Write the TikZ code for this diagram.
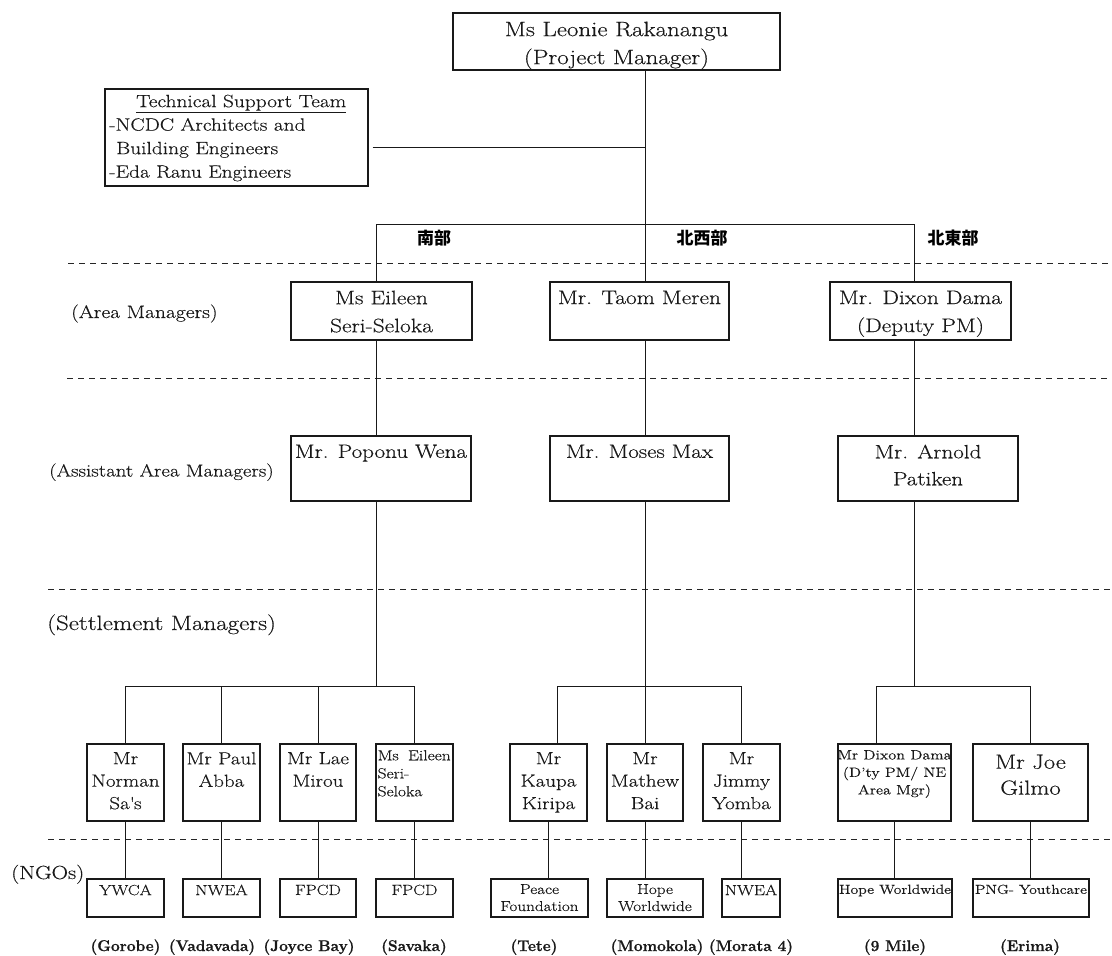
\documentclass[tikz,border=0pt]{standalone}
\usepackage{fontspec}
\setmainfont{Latin Modern Roman}[FakeStretch=1.2, FakeBold=0.35]
\newfontfamily\lmplain{Latin Modern Roman}[BoldFeatures={FakeBold=1}]
\newfontfamily\cjk{Noto Sans CJK JP}
\newcommand\myfs[2]{\fontsize{#1}{#2}\selectfont}
\begin{document}
\begin{tikzpicture}[x=1pt,y=-1pt,
  bx/.style={draw=black!90, line width=1.1pt, inner sep=0pt},
  ln/.style={line width=1pt, draw=black!90},
  dl/.style={line width=1pt, draw=black!85, dash pattern=on 6pt off 5pt},
  tx/.style={inner sep=0pt, anchor=north, align=center, text=black!90},
  side/.style={inner sep=0pt, anchor=base west, text=black!90},
  lab/.style={inner sep=0pt, anchor=base, text=black!90, font=\lmplain\bfseries\myfs{15.5}{16}},
  cjkl/.style={inner sep=0pt, text=black, font=\cjk\bfseries\myfs{17}{17}}]
\useasboundingbox (0,0) rectangle (1112,956);

% dashed separators
\draw[dl] (68,263) -- (1112,263);
\draw[dl] (67,378) -- (1112,378);
\draw[dl] (48,589) -- (1112,589);
\draw[dl] (48,839) -- (1112,839);

% helper coordinates
\coordinate (xs) at (376,0);
\coordinate (xw) at (645,0);
\coordinate (xe) at (914.5,0);
\coordinate (bar) at (0,224);
\coordinate (bbar) at (0,686);
\coordinate (tj) at (645,147);
\coordinate (k5) at (557,0);
\coordinate (k8) at (876,0);

% boxes
\node[bx, minimum width=327pt, minimum height=57pt] (pm) at (616.5,41.5) {};
\node[bx, minimum width=263pt, minimum height=97pt] (tech) at (236.5,137.5) {};

\node[bx, minimum width=181pt, minimum height=58pt] (a1) at (381.5,311) {};
\node[bx, minimum width=179pt, minimum height=58pt] (a2) at (639.5,311) {};
\node[bx, minimum width=181pt, minimum height=58pt] (a3) at (920.5,311) {};

\node[bx, minimum width=180pt, minimum height=65pt] (s1) at (381,468.5) {};
\node[bx, minimum width=179pt, minimum height=65pt] (s2) at (639.5,468.5) {};
\node[bx, minimum width=180pt, minimum height=65pt] (s3) at (928,468.5) {};

\node[bx, minimum width=77pt, minimum height=77pt] (b1) at (125.5,782.5) {};
\node[bx, minimum width=77pt, minimum height=77pt] (b2) at (221.5,782.5) {};
\node[bx, minimum width=76pt, minimum height=77pt] (b3) at (318,782.5) {};
\node[bx, minimum width=77pt, minimum height=77pt] (b4) at (414.5,782.5) {};
\node[bx, minimum width=77pt, minimum height=77pt] (b5) at (548.5,782.5) {};
\node[bx, minimum width=76pt, minimum height=77pt] (b6) at (645,782.5) {};
\node[bx, minimum width=77pt, minimum height=77pt] (b7) at (741.5,782.5) {};
\node[bx, minimum width=113pt, minimum height=77pt] (b8) at (894.5,782.5) {};
\node[bx, minimum width=115pt, minimum height=77pt] (b9) at (1030.5,782.5) {};

\node[bx, minimum width=77pt, minimum height=38pt] (n1) at (125.5,898) {};
\node[bx, minimum width=77pt, minimum height=38pt] (n2) at (221.5,898) {};
\node[bx, minimum width=76pt, minimum height=38pt] (n3) at (318,898) {};
\node[bx, minimum width=77pt, minimum height=38pt] (n4) at (414.5,898) {};
\node[bx, minimum width=97pt, minimum height=38pt] (n5) at (539.5,898) {};
\node[bx, minimum width=96pt, minimum height=38pt] (n6) at (655,898) {};
\node[bx, minimum width=58pt, minimum height=38pt] (n7) at (751,898) {};
\node[bx, minimum width=114pt, minimum height=38pt] (n8) at (895,898) {};
\node[bx, minimum width=116pt, minimum height=38pt] (n9) at (1031,898) {};

% connectors
\draw[ln] (pm.south -| xw) -- (a2.north -| xw);
\draw[ln, shorten <=4pt] (tech.east |- tj) -- (tj);
\draw[ln] (a1.north -| xs) -- (xs |- bar) -- (xe |- bar) -- (a3.north -| xe);
\draw[ln] (a1.south -| xs) -- (s1.north -| xs);
\draw[ln] (a2.south -| xw) -- (s2.north -| xw);
\draw[ln] (a3.south -| xe) -- (s3.north -| xe);
\draw[ln] (s1.south -| xs) -- (xs |- bbar);
\draw[ln] (s2.south -| xw) -- (xw |- bbar);
\draw[ln] (s3.south -| xe) -- (xe |- bbar);
\draw[ln] (b1.north) -- (b1.north |- bbar) -- (b4.north |- bbar) -- (b4.north);
\draw[ln] (b2.north) -- (b2.north |- bbar);
\draw[ln] (b3.north) -- (b3.north |- bbar);
\draw[ln] (b5.north -| k5) -- (k5 |- bbar) -- (b7.north |- bbar) -- (b7.north);
\draw[ln] (b6.north) -- (b6.north |- bbar);
\draw[ln] (b8.north -| k8) -- (k8 |- bbar) -- (b9.north |- bbar) -- (b9.north);
\foreach \i in {1,...,9} {\draw[ln] (b\i.south) -- (b\i.south |- n\i.north);}

% region labels
\node[cjkl] (r1) at (434,238) {南部};
\node[cjkl] (r2) at (702,238) {北西部};
\node[cjkl] (r3) at (953,238) {北東部};

% side labels
\node[side, font=\myfs{18}{20}] (l1) at (71,318) {(Area Managers)};
\node[side, font=\myfs{17.4}{20}] (l2) at (49,476.5) {(Assistant Area Managers)};
\node[side, font=\myfs{20.8}{22}] (l3) at (47,630) {(Settlement Managers)};
\node[side, font=\myfs{19}{22}] (l4) at (11,879) {(NGOs)};

% box texts
\node[tx, font=\myfs{20.8}{28}] (tpm) at (616.5,21.5) {Ms Leonie Rakanangu\\(Project Manager)};
\node[tx, anchor=north west, align=left, font=\myfs{17.8}{23.5}] (ttech) at (109,94.5)
  {\hspace*{27pt}\underline{Technical Support Team}\\-NCDC Architects and\\\hspace*{0.4em}Building Engineers\\-Eda Ranu Engineers};

\node[tx, font=\myfs{19.5}{28}] (ta1) at (381.5,290.5) {Ms Eileen\\Seri-Seloka};
\node[tx, font=\myfs{19.5}{28}] (ta2) at (639.5,290.5) {Mr. Taom Meren};
\node[tx, font=\myfs{19.5}{28}] (ta3) at (920.5,290.5) {Mr. Dixon Dama\\(Deputy PM)};

\node[tx, font=\myfs{19.2}{27}] (ts1) at (381,444.5) {Mr. Poponu Wena};
\node[tx, font=\myfs{19.2}{27}] (ts2) at (639.5,444.5) {Mr. Moses Max};
\node[tx, font=\myfs{19.2}{27}] (ts3) at (928,444.5) {Mr. Arnold\\Patiken};

\node[tx, font=\myfs{17.5}{22.5}] (tb1) at (125.5,752) {Mr\\Norman\\Sa\textquotesingle s};
\node[tx, font=\myfs{17.5}{22.5}] (tb2) at (221.5,752) {Mr Paul\\Abba};
\node[tx, font=\myfs{17.5}{22.5}] (tb3) at (318,752) {Mr Lae\\Mirou};
\node[tx, anchor=north west, align=left, font=\myfs{14.5}{18}] (tb4) at (377.5,750)
  {\makebox[73pt][l]{Ms\hfill Eileen}\\Seri-\\Seloka};
\node[tx, font=\myfs{17.5}{22.5}] (tb5) at (548.5,752) {Mr\\Kaupa\\Kiripa};
\node[tx, font=\myfs{17.5}{22.5}] (tb6) at (645,752) {Mr\\Mathew\\Bai};
\node[tx, font=\myfs{17.5}{22.5}] (tb7) at (741.5,752) {Mr\\Jimmy\\Yomba};
\node[tx, font=\myfs{13.5}{17.5}] (tb8) at (894.5,750) {Mr Dixon Dama\\(D’ty PM/ NE\\Area Mgr)};
\node[tx, font=\myfs{20.5}{26}] (tb9) at (1030.5,754.5) {Mr Joe\\Gilmo};

\node[tx, font=\myfs{14.7}{17}] (tn1) at (125.5,884.5) {YWCA};
\node[tx, font=\myfs{14.7}{17}] (tn2) at (221.5,884.5) {NWEA};
\node[tx, font=\myfs{14.7}{17}] (tn3) at (318,884.5) {FPCD};
\node[tx, font=\myfs{14.7}{17}] (tn4) at (414.5,884.5) {FPCD};
\node[tx, font=\myfs{14.3}{17}] (tn5) at (539.5,884) {Peace\\Foundation};
\node[tx, font=\myfs{14.3}{17}] (tn6) at (655,884) {Hope\\Worldwide};
\node[tx, font=\myfs{14.7}{17}] (tn7) at (751,884.5) {NWEA};
\node[tx, font=\myfs{13.1}{17}] (tn8) at (895,884.5) {Hope Worldwide};
\node[tx, font=\myfs{13}{17}] (tn9) at (1031,884.5) {PNG- Youthcare};

% settlement names
\node[lab] (p1) at (125.5,951) {(Gorobe)};
\node[lab] (p2) at (212,951) {(Vadavada)};
\node[lab] (p3) at (309,951) {(Joyce Bay)};
\node[lab] (p4) at (414,951) {(Savaka)};
\node[lab] (p5) at (534,951) {(Tete)};
\node[lab] (p6) at (657,951) {(Momokola)};
\node[lab] (p7) at (751,951) {(Morata 4)};
\node[lab] (p8) at (895,951) {(9 Mile)};
\node[lab] (p9) at (1030,951) {(Erima)};
\end{tikzpicture}
\end{document}
